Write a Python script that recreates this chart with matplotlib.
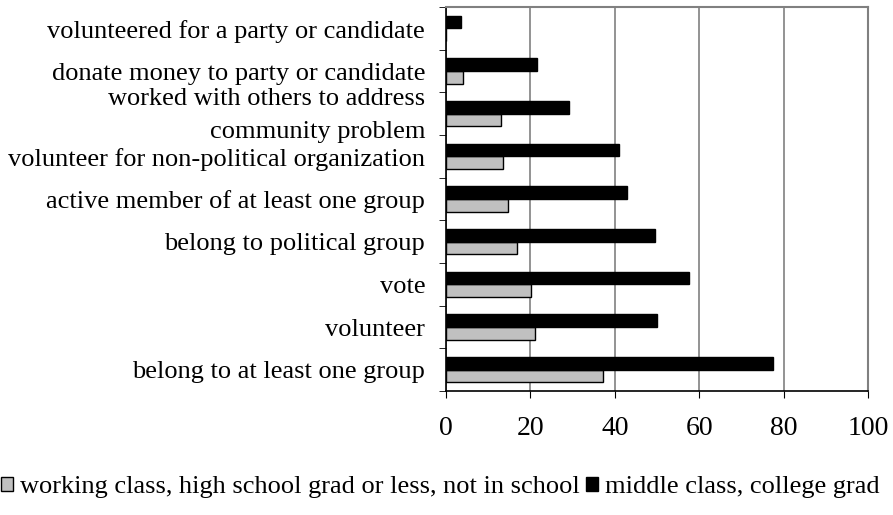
import numpy as np
import matplotlib.pyplot as plt
from matplotlib.patches import Patch

plt.rcParams['font.family'] = ['Liberation Serif', 'DejaVu Serif']

# categories bottom -> top
categories = ['belong to at least one group', 'volunteer', 'vote',
              'belong to political group', 'active member of at least one group',
              'volunteer for non-political organization',
              'worked with others to address\ncommunity problem',
              'donate money to party or candidate',
              'volunteered for a party or candidate']
working = [37.2, 21.1, 20.1, 16.8, 14.8, 13.6, 13.0, 4.0, 0.0]
middle = [77.5, 50.0, 57.6, 49.6, 43.0, 41.1, 29.2, 21.6, 3.6]
xticks = [0, 20, 40, 60, 80, 100]

fig = plt.figure(figsize=(8.93, 5.15), dpi=100)
ax = fig.add_axes([446/893, 1 - 391/515, 422/893, 384/515])

y = np.arange(len(categories))
h = 0.3
ax.barh(y - h/2, working, height=h, color='#c0c0c0', edgecolor='black', linewidth=1.0, zorder=3)
ax.barh(y + h/2, middle, height=h, color='black', edgecolor='black', linewidth=1.0, zorder=3)

ax.set_xlim(0, 100)
ax.set_ylim(-0.5, len(categories) - 0.5)
ax.set_xticks(xticks)
ax.set_xticklabels([str(v) for v in xticks], fontsize=20)
ax.tick_params(axis='x', direction='out', length=5, pad=13, color='black')

# y labels drawn as text so the two-line one can be placed by hand
ax.set_yticks(y)
ax.set_yticklabels([])
ax.tick_params(axis='y', length=0)
for i, lab in enumerate(categories):
    dy = -1.5 if '\n' in lab else -2
    ax.annotate(lab, xy=(0, i), xycoords=('axes fraction', 'data'),
                xytext=(-15, dy), textcoords='offset points',
                ha='right', va='center', fontsize=19, linespacing=1.65)
ax.set_yticks(np.arange(len(categories) + 1) - 0.5, minor=True)
ax.tick_params(axis='y', which='minor', length=5, direction='out')
ax.grid(axis='x', color='#808080', linewidth=1.2, zorder=0)
for s in ['top', 'right']:
    ax.spines[s].set_color('#808080')
    ax.spines[s].set_linewidth(1.5)
for s in ['left', 'bottom']:
    ax.spines[s].set_color('black')
    ax.spines[s].set_linewidth(1.2)

handles = [Patch(facecolor='#c0c0c0', edgecolor='black'), Patch(facecolor='black', edgecolor='black')]
labels = ['working class, high school grad or less, not in school', 'middle class, college grad']
fig.legend(handles, labels, loc='center left', bbox_to_anchor=(0.0, 1 - 487/515), ncol=2,
           frameon=False, fontsize=19, handlelength=0.45, handleheight=0.45, handletextpad=0.25,
           columnspacing=0.25, borderaxespad=0, borderpad=0.05)

fig.savefig('out.png', dpi=100)
